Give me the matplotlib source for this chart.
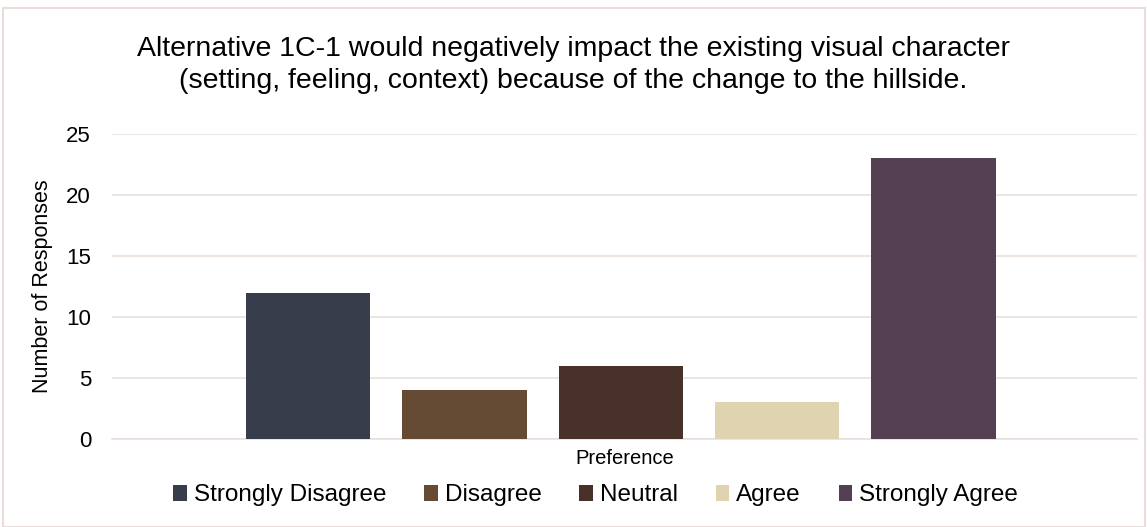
import matplotlib
matplotlib.use("Agg")
import matplotlib.pyplot as plt
from matplotlib.patches import Rectangle

plt.rcParams['font.family'] = ['Liberation Sans', 'DejaVu Sans']

# data
labels = ["Strongly Disagree", "Disagree", "Neutral", "Agree", "Strongly Agree"]
values = [12, 4, 6, 3, 23]
colors = ["#373d4a", "#654a34", "#483128", "#e0d3b0", "#553f52"]
yticks = [0, 5, 10, 15, 20, 25]

fig = plt.figure(figsize=(11.47, 5.27), dpi=100)
ax = fig.add_axes([0.0976, 0.167, 0.8937, 0.579])

for i, (lab, v, c) in enumerate(zip(labels, values, colors)):
    ax.bar(i, v, width=0.795, color=c, label=lab, zorder=3)

ax.set_xlim(-1.253, 5.30)
ax.set_ylim(0, 25)
ax.set_yticks(yticks)
ax.set_xticks([])
ax.grid(axis='y', color='#eae0da', linewidth=1.2, zorder=0)
for s in ['top', 'right', 'left']:
    ax.spines[s].set_visible(False)
ax.spines['bottom'].set_color('#eae0da')
ax.spines['bottom'].set_linewidth(1.2)
ax.tick_params(axis='y', length=0, labelsize=16, pad=15)
ax.set_ylabel("Number of Responses", fontsize=15.5)
ax.yaxis.set_label_coords(-0.0576, 0.5)
ax.set_xlabel("Preference", fontsize=14.5, labelpad=7.5)

fig.text(0.5, 0.877,
         "Alternative 1C-1 would negatively impact the existing visual character\n"
         "(setting, feeling, context) because of the change to the hillside.",
         fontsize=20.5, ha='center', va='center', linespacing=1.3)

leg = ax.legend(loc='center', bbox_to_anchor=(0.472, -0.185), ncol=5, frameon=False,
                fontsize=17.5, handlelength=0.55, handleheight=0.6, handletextpad=0.3,
                columnspacing=1.55)

fig.patches.append(Rectangle((0.003, 0.0), 0.995, 0.985, transform=fig.transFigure,
                             fill=False, edgecolor='#e8ddd8', linewidth=1.5))

fig.savefig("out.png", dpi=100)
